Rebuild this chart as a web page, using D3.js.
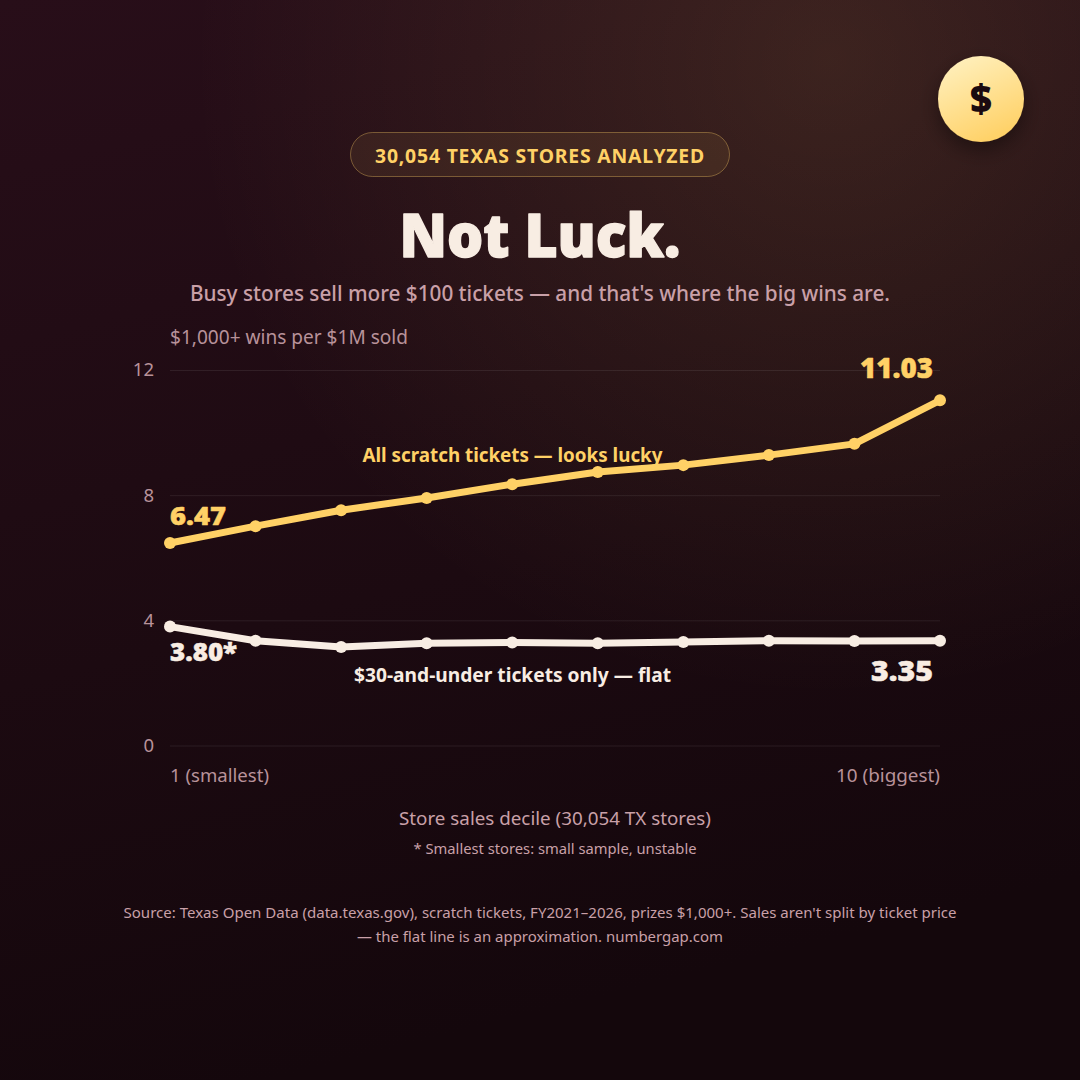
<!DOCTYPE html>
<html><head><meta charset="utf-8">
<script src="https://cdn.jsdelivr.net/npm/d3@7"></script>
<style>
html,body{margin:0;padding:0;background:#1a0a10;overflow:hidden}
svg{display:block}
text{font-family:"Noto Sans",sans-serif}
</style></head><body><div id="chart"></div>
<script>
const deciles=[1,2,3,4,5,6,7,8,9,10];
const allTickets=[6.47,7.01,7.52,7.91,8.35,8.74,8.96,9.28,9.64,11.03];
const under30=[3.80,3.35,3.15,3.27,3.29,3.27,3.31,3.35,3.34,3.35];
const yTicks=[0,4,8,12];
const W=1080,H=1080;
const svg=d3.select("#chart").append("svg").attr("width",W).attr("height",H);
const defs=svg.append("defs");
const bg=defs.append("linearGradient").attr("id","bg").attr("x1",0).attr("y1",0).attr("x2",0.25).attr("y2",1);
bg.append("stop").attr("offset",0).attr("stop-color","#280e19");
bg.append("stop").attr("offset",0.6).attr("stop-color","#1c0a11");
bg.append("stop").attr("offset",1).attr("stop-color","#14070c");
const rg=defs.append("radialGradient").attr("id","glow").attr("gradientUnits","userSpaceOnUse").attr("cx",830).attr("cy",60).attr("r",640);
rg.append("stop").attr("offset",0).attr("stop-color","#ffd166").attr("stop-opacity",0.115);
rg.append("stop").attr("offset",1).attr("stop-color","#ffd166").attr("stop-opacity",0);
const coin=defs.append("linearGradient").attr("id","coin").attr("x1",0.15).attr("y1",0).attr("x2",0.6).attr("y2",1);
coin.append("stop").attr("offset",0).attr("stop-color","#fff1c0");
coin.append("stop").attr("offset",1).attr("stop-color","#ffd166");
const sh=defs.append("filter").attr("id","shadow").attr("x","-50%").attr("y","-50%").attr("width","200%").attr("height","200%");
sh.append("feDropShadow").attr("dx",0).attr("dy",8).attr("stdDeviation",10).attr("flood-color","#000").attr("flood-opacity",0.4);
svg.append("rect").attr("width",W).attr("height",H).attr("fill","url(#bg)");
svg.append("rect").attr("width",W).attr("height",H).attr("fill","url(#glow)");

const x=d3.scaleLinear().domain([1,10]).range([170,940]);
const y=d3.scaleLinear().domain([0,12]).range([745.5,370]);
const gold="#ffd166",cream="#f8ede3",muted="#c9a0a8",dim="#b8929a";

function label(str,px,py,size,weight,fill,width,anchor,bold){
  const t=svg.append("text").attr("x",px).attr("y",py).attr("font-size",size).attr("font-weight",weight).attr("fill",fill).attr("text-anchor",anchor||"middle").text(str);
  if(width) t.attr("textLength",width).attr("lengthAdjust","spacingAndGlyphs");
  if(bold) t.attr("stroke",fill).attr("stroke-width",bold).attr("stroke-linejoin","round");
  return t;
}

svg.append("circle").attr("cx",981).attr("cy",99).attr("r",43).attr("fill","url(#coin)").attr("filter","url(#shadow)");
label("$",981,113,38,900,"#1a0a10");

svg.append("rect").attr("x",350.5).attr("y",132.5).attr("width",379).attr("height",44).attr("rx",22)
 .attr("fill","rgba(255,209,102,0.08)").attr("stroke","rgba(255,209,102,0.35)");
label("30,054 TEXAS STORES ANALYZED",540,163,19,700,gold,330).attr("letter-spacing",0.8);
label("Not Luck.",540,257,61,900,cream,281,"middle",1.4);
label("Busy stores sell more $100 tickets — and that's where the big wins are.",540,301,21,500,muted,700);
label("$1,000+ wins per $1M sold",170,344,19,400,dim,238,"start");

const yAxis=svg.append("g").attr("transform","translate(170,0)").call(d3.axisLeft(y).tickValues(yTicks).tickSize(-770).tickPadding(16).tickFormat(d3.format("d")));
yAxis.select(".domain").remove();
yAxis.selectAll("line").attr("stroke","#ffffff").attr("stroke-opacity",0.08);
yAxis.selectAll("text").attr("font-size",18.5).attr("fill",dim).attr("font-family",'"Noto Sans",sans-serif');

label("1 (smallest)",x(1),782,18.7,400,dim,99,"start");
label("10 (biggest)",x(10),782,18.7,400,dim,104,"end");

const line=d3.line().x((d,i)=>x(deciles[i])).y(d=>y(d));
[[allTickets,gold],[under30,cream]].forEach(([vals,c])=>{
  svg.append("path").attr("d",line(vals)).attr("fill","none").attr("stroke",c).attr("stroke-width",7).attr("stroke-linejoin","round").attr("stroke-linecap","round");
  svg.append("g").selectAll("circle").data(vals).join("circle").attr("cx",(d,i)=>x(deciles[i])).attr("cy",d=>y(d)).attr("r",6).attr("fill",c);
});

label("6.47",170,525,25,900,gold,56,"start",0.5);
label("11.03",933,378,28,900,gold,73,"end",0.5);
label("3.80*",170,661,25,900,cream,67,"start",0.5);
label("3.35",933,681,28,900,cream,62,"end",0.5);
label("All scratch tickets — looks lucky",512.5,462,18.8,700,gold,300);
label("$30-and-under tickets only — flat",512.5,681.5,19,700,cream,317);

label("Store sales decile (30,054 TX stores)",555,825,18.8,400,muted,312);
label("* Smallest stores: small sample, unstable",555,854,14.8,400,muted,283);
label("Source: Texas Open Data (data.texas.gov), scratch tickets, FY2021–2026, prizes $1,000+. Sales aren't split by ticket price",540,918,15,400,muted,833);
label("— the flat line is an approximation. numbergap.com",540,942,15,400,muted,366);
</script></body></html>
